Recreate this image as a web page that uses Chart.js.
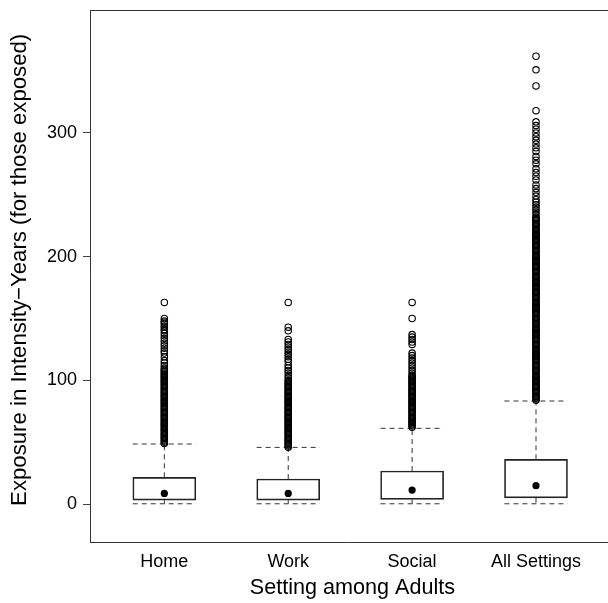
<!DOCTYPE html>
<html><head><meta charset="utf-8">
<script src="https://cdn.jsdelivr.net/npm/chart.js@4/dist/chart.umd.min.js"></script>
<style>html,body{margin:0;padding:0;background:#fff}</style>
</head><body>
<canvas id="c" width="608" height="603" style="display:block;width:608px;height:603px"></canvas>
<script>
const categories = ['Home', 'Work', 'Social', 'All Settings'];
const yTicks = [0, 100, 200, 300];
const q1 = [3.2, 3.2, 3.8, 5.0];
const q3 = [21.6, 20.2, 26.7, 36.1];
const medians = [8.6, 8.6, 11.3, 14.8];
const whiskerLow = [0.2, 0.2, 0.2, 0.2];
const whiskerHigh = [48.5, 45.8, 61.2, 83.3];
const outHome = [49,50,51,52,53,54,55,56,57,58,59,60,61,62,63,64,65,66,67,68,69,70,71,72,73,74,75,76,77,78,79,80,
  81,82,83,84,85,86,87,88,89,90,91,92,93,94,95,96,97,98,99,100,101,102,103,104,105,106,107,108,109,
  110,112,114,116,119,122,124,126,128,130,132,134,136,138,140,141,143,144,146,147,148,150,163];
const outWork = [46,47,48,49,50,51,52,53,54,55,56,57,58,59,60,61,62,63,64,65,66,67,68,69,70,71,72,73,74,75,76,77,78,
  79,80,81,82,83,84,85,86,87,88,89,90,91,92,93,94,95,96,97,98,99,100,
  102,104,106,108,110,112,115,117,119,121,123,125,127,129,131,133,140,143,163];
const outSocial = [62,63,64,65,66,67,68,69,70,71,72,73,74,75,76,77,78,79,80,81,82,83,84,85,86,87,88,89,90,91,92,93,
  94,95,96,97,98,99,100,101,102,103,104,
  106,108,110,112,114,116,118,120,122,129,131,133,135,137,150,163];
const outAll = [84,85,86,87,88,89,90,91,92,93,94,95,96,97,98,99,100,101,102,103,104,105,106,107,108,109,110,111,112,
  113,114,115,116,117,118,119,120,121,122,123,124,125,126,127,128,129,130,131,132,133,134,135,136,137,138,139,140,
  141,142,143,144,145,146,147,148,149,150,151,152,153,154,155,156,157,158,159,160,161,162,163,164,165,166,167,168,
  169,170,171,172,173,174,175,176,177,178,179,180,181,182,183,184,185,186,187,188,189,190,191,192,193,194,195,196,
  197,198,199,200,201,202,203,204,205,206,207,208,209,210,211,212,213,214,215,216,217,218,219,220,221,222,223,224,
  225,226,227,228,229,230,231,232,
  234,236,238,240,242,244,246,249,252,255,258,262,265,268,271,275,278,281,285,288,291,294,297,300,303,306,309,
  318,338,351,362];
const outliers = [outHome, outWork, outSocial, outAll];

const HALF = 0.255; // half box width in category units
const FONT = "'Liberation Sans', Arial, Helvetica, sans-serif";

const boxData = categories.map((c, i) => ({x: i + 1, y: [q1[i], q3[i]]}));
const whiskerData = [];
categories.forEach((c, i) => {
  const x = i + 1;
  whiskerData.push({x: x - HALF, y: whiskerHigh[i]}, {x: x + HALF, y: whiskerHigh[i]}, {x: x, y: null});
  whiskerData.push({x: x, y: q3[i]}, {x: x, y: whiskerHigh[i]}, {x: x, y: null});
  whiskerData.push({x: x, y: q1[i]}, {x: x, y: whiskerLow[i]}, {x: x, y: null});
  whiskerData.push({x: x - HALF, y: whiskerLow[i]}, {x: x + HALF, y: whiskerLow[i]}, {x: x, y: null});
});
const medianData = categories.map((c, i) => ({x: i + 1, y: medians[i]}));
const outlierData = [];
outliers.forEach((arr, i) => arr.forEach(v => outlierData.push({x: i + 1, y: v})));

// panel frame: top line and bottom line continue to the canvas edge (right side is cut off)
const frame = {
  id: 'frame',
  afterDraw(chart) {
    const {ctx, chartArea, width} = chart;
    ctx.save();
    ctx.strokeStyle = '#333';
    ctx.lineWidth = 1;
    ctx.beginPath();
    ctx.moveTo(chartArea.left, Math.round(chartArea.top) + 0.5);
    ctx.lineTo(width, Math.round(chartArea.top) + 0.5);
    ctx.moveTo(chartArea.right - 1, Math.round(chartArea.bottom) + 0.5);
    ctx.lineTo(width, Math.round(chartArea.bottom) + 0.5);
    ctx.stroke();
    ctx.restore();
  }
};

new Chart(document.getElementById('c'), {
  data: {
    datasets: [
      {type: 'bar', data: boxData, backgroundColor: 'rgba(255,255,255,0)', borderColor: '#222', borderWidth: 1,
       borderSkipped: false, barThickness: 63, grouped: false, order: 3},
      {type: 'line', data: whiskerData, borderColor: '#333', borderWidth: 1, borderDash: [5, 4], pointRadius: 0,
       spanGaps: false, fill: false, tension: 0, order: 2},
      {type: 'scatter', data: medianData, pointRadius: 3.6, backgroundColor: '#000', borderColor: '#000', borderWidth: 0, order: 1},
      {type: 'scatter', data: outlierData, pointRadius: 3.2, backgroundColor: 'rgba(0,0,0,0)', borderColor: '#000', borderWidth: 1.1, order: 0}
    ]
  },
  options: {
    responsive: false,
    devicePixelRatio: 1,
    animation: false,
    layout: {padding: {top: 10, right: 0, bottom: 0, left: 0}},
    plugins: {legend: {display: false}, tooltip: {enabled: false}},
    scales: {
      x: {
        type: 'linear', min: 0.4, max: 4.54, offset: false,
        afterBuildTicks: s => { s.ticks = categories.map((c, i) => ({value: i + 1})); },
        afterFit: s => { s.height = 61; s.paddingLeft = 0; s.paddingRight = 0; },
        grid: {drawOnChartArea: false, drawTicks: false},
        border: {display: true, color: '#333', width: 1},
        ticks: {autoSkip: false, maxRotation: 0, padding: 9, color: '#000',
                font: {family: FONT, size: 18}, callback: v => categories[v - 1]},
        title: {display: true, text: '  Setting among Adults', color: '#000',
                font: {family: FONT, size: 21.6}, padding: {top: 0, bottom: 2}}
      },
      y: {
        type: 'linear', min: -30.7, max: 399.4,
        afterBuildTicks: s => { s.ticks = yTicks.map(v => ({value: v})); },
        afterFit: s => { s.width = 90; s.paddingTop = 0; s.paddingBottom = 0; },
        grid: {drawOnChartArea: false, drawTicks: true, tickLength: 7, color: '#444'},
        border: {display: true, color: '#333', width: 1},
        ticks: {padding: 6, color: '#000', font: {family: FONT, size: 18}},
        title: {display: true, text: '  Exposure in Intensity\u2212Years (for those exposed)', color: '#000',
                font: {family: FONT, size: 22.2}, padding: {top: 7, bottom: 7}}
      }
    }
  },
  plugins: [frame]
});
</script>
</body></html>
